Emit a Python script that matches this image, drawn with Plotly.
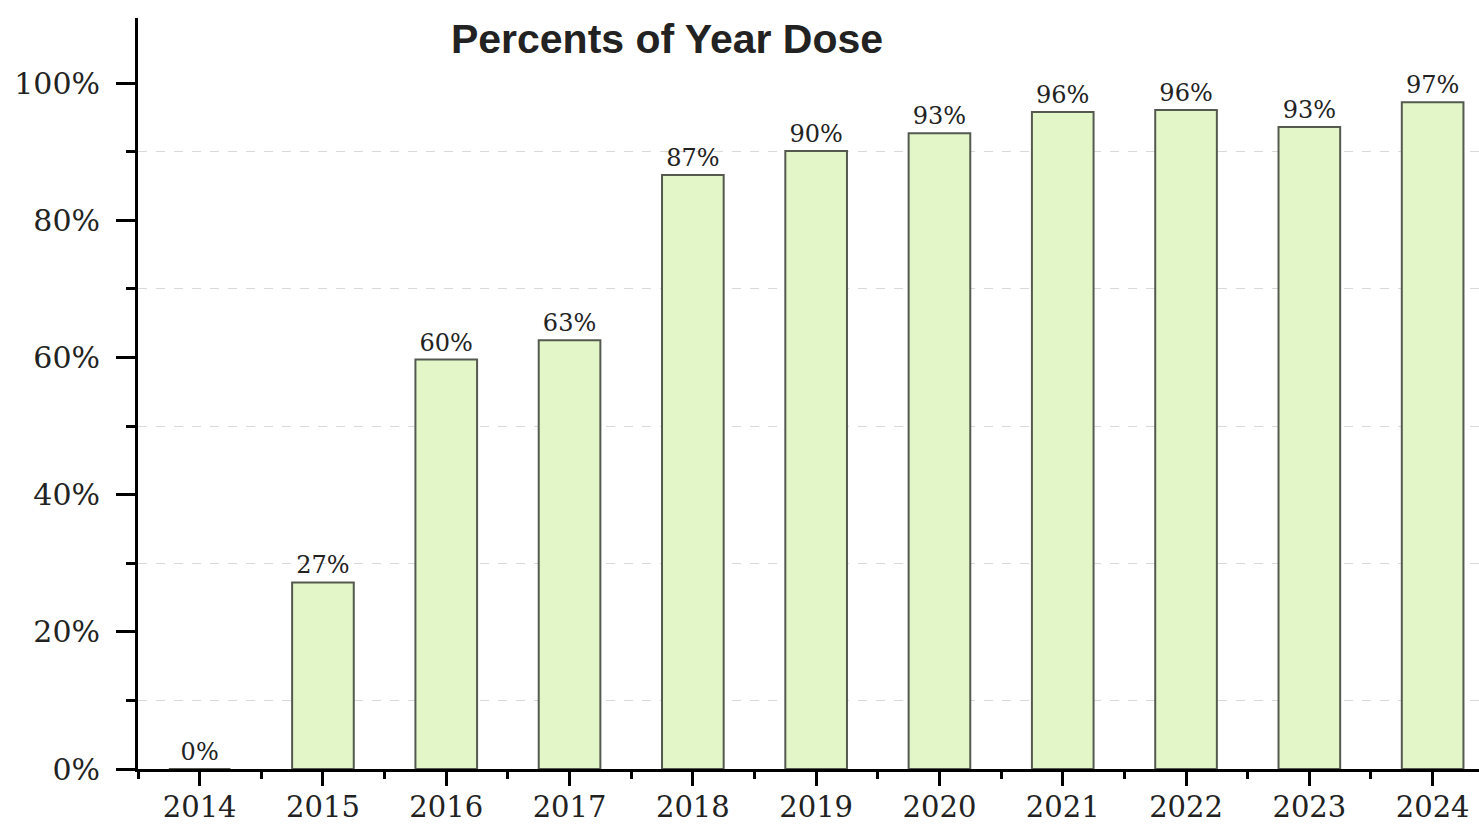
import plotly.graph_objects as go

years = ["2014", "2015", "2016", "2017", "2018", "2019", "2020", "2021", "2022", "2023", "2024"]
percents = [0, 27.2, 59.7, 62.5, 86.6, 90.1, 92.7, 95.8, 96.1, 93.6, 97.2]
labels = ["0%", "27%", "60%", "63%", "87%", "90%", "93%", "96%", "96%", "93%", "97%"]
y_tick_vals = [0, 20, 40, 60, 80, 100]
y_tick_text = ["0%", "20%", "40%", "60%", "80%", "100%"]
title_text = "Percents of Year Dose"

x_pos = list(range(len(years)))

fig = go.Figure()
fig.add_trace(go.Bar(
    x=x_pos,
    y=percents,
    width=0.5,
    text=labels,
    textposition="outside",
    cliponaxis=False,
    textfont=dict(family="DejaVu Serif", size=24, color="#222222"),
    marker=dict(color="#e3f6c8", line=dict(color="#555a50", width=2)),
    hoverinfo="skip",
))

serif = "DejaVu Serif"
fig.update_layout(
    width=1479,
    height=824,
    margin=dict(l=138, r=0, t=18, b=55),
    paper_bgcolor="white",
    plot_bgcolor="white",
    showlegend=False,
    title=dict(
        text="<b>" + title_text + "</b>",
        x=667 / 1479,
        xanchor="center",
        y=1 - 39 / 824,
        yanchor="middle",
        font=dict(family="Liberation Sans", size=41, color="#222222"),
    ),
    xaxis=dict(
        range=[-0.5, 10.376],
        automargin=False,
        tickmode="array",
        tickvals=x_pos,
        ticktext=years,
        ticks="outside",
        ticklen=14,
        tickwidth=3,
        tickcolor="black",
        showline=True,
        linecolor="black",
        linewidth=3,
        showgrid=False,
        zeroline=False,
        tickfont=dict(family=serif, size=29, color="#222222"),
        ticklabelstandoff=-4,
        minor=dict(tick0=-0.5, dtick=1, ticks="outside", ticklen=7, tickwidth=3, tickcolor="black", showgrid=False),
    ),
    yaxis=dict(
        range=[0, 109.5],
        automargin=False,
        tickmode="array",
        tickvals=y_tick_vals,
        ticktext=y_tick_text,
        ticks="outside",
        ticklen=19,
        tickwidth=3,
        tickcolor="black",
        showline=True,
        linecolor="black",
        linewidth=3,
        showgrid=False,
        zeroline=False,
        tickfont=dict(family=serif, size=30, color="#222222"),
        ticklabelstandoff=10,
        minor=dict(tick0=10, dtick=20, ticks="outside", ticklen=9, tickwidth=3, tickcolor="black",
                   showgrid=True, gridcolor="#d9d9d9", griddash="dash", gridwidth=1),
    ),
    bargap=0.5,
)

fig.write_html("out.html")
